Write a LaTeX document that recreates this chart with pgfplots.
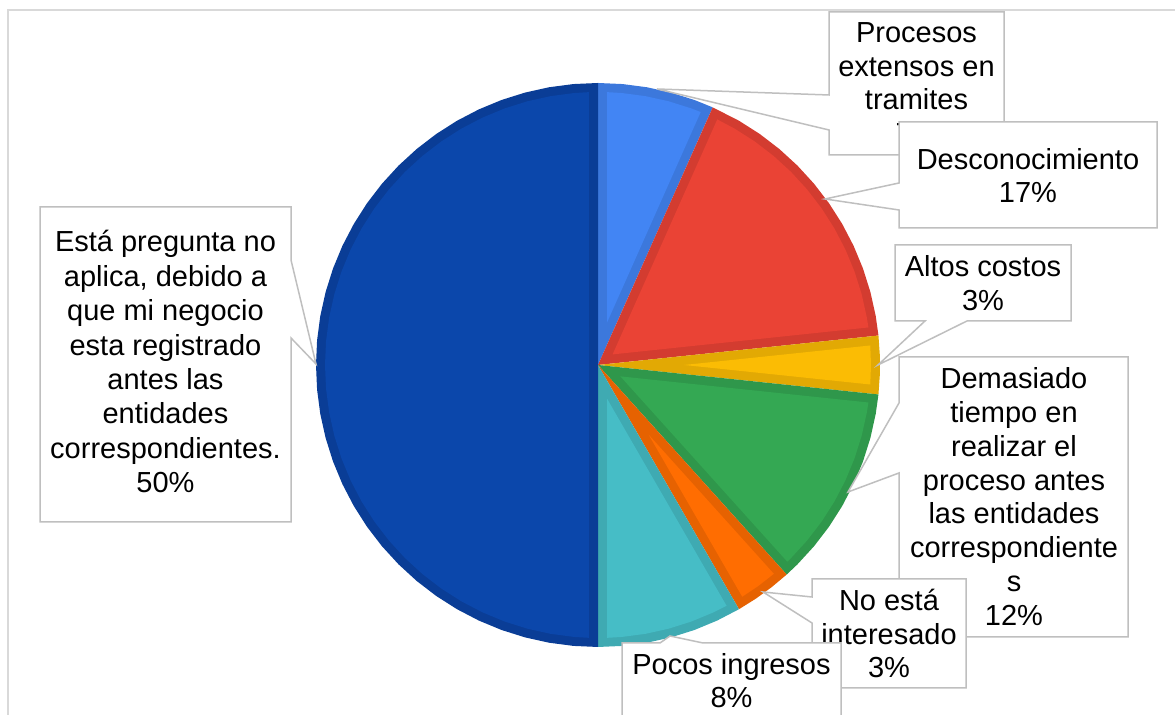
\documentclass[border=0pt]{standalone}
\usepackage{pgfplots}
\pgfplotsset{compat=1.18}
\usepgfplotslibrary{polar}
\usepackage{fontspec}
\setmainfont{Liberation Sans}
\definecolor{estaL}{RGB}{11,71,171}
\definecolor{estaD}{RGB}{10,61,150}
\definecolor{procL}{RGB}{66,133,244}
\definecolor{procD}{RGB}{60,120,220}
\definecolor{descL}{RGB}{234,67,53}
\definecolor{descD}{RGB}{211,60,48}
\definecolor{altL}{RGB}{251,188,4}
\definecolor{altD}{RGB}{226,169,4}
\definecolor{demL}{RGB}{52,168,83}
\definecolor{demD}{RGB}{47,151,75}
\definecolor{noL}{RGB}{255,109,1}
\definecolor{noD}{RGB}{230,98,1}
\definecolor{pocL}{RGB}{70,189,198}
\definecolor{pocD}{RGB}{63,170,178}
\definecolor{boxgray}{RGB}{191,191,191}
\definecolor{framegray}{RGB}{217,217,217}
\pgfplotsset{slice/.style={draw=none, data cs=polar}}
\newcommand\lblfont{\fontsize{14.5}{16.5}\selectfont}
\newcommand\lbl[3]{\node[anchor=base, inner sep=0pt, font=\lblfont, text=black] at (#1,#2) {#3};}
\begin{document}
\begin{tikzpicture}
\begin{axis}[at={(0,0)}, anchor=south west, scale only axis,
  width=587.5pt, height=357.5pt,
  xmin=-598, xmax=577, ymin=-350, ymax=365,
  axis lines=none, clip=false]
% outer (border-coloured) slices: counts 4,10,2,7,2,5,30 of 60
\addplot[slice, fill=procD] coordinates {(0,0) (90,282) (85,282) (80,282) (75,282) (70,282) (66,282)};
\addplot[slice, fill=descD] coordinates {(0,0) (66,282) (60,282) (55,282) (50,282) (45,282) (40,282) (35,282) (30,282) (25,282) (20,282) (15,282) (10,282) (6,282)};
\addplot[slice, fill=altD] coordinates {(0,0) (6,282) (2,282) (-2,282) (-6,282)};
\addplot[slice, fill=demD] coordinates {(0,0) (-6,282) (-10,282) (-15,282) (-20,282) (-25,282) (-30,282) (-35,282) (-40,282) (-45,282) (-48,282)};
\addplot[slice, fill=noD] coordinates {(0,0) (-48,282) (-52,282) (-56,282) (-60,282)};
\addplot[slice, fill=pocD] coordinates {(0,0) (-60,282) (-65,282) (-70,282) (-75,282) (-80,282) (-85,282) (-90,282)};
\addplot[slice, fill=estaD] coordinates {(0,0) (90,282) (95,282) (100,282) (105,282) (110,282) (115,282) (120,282) (125,282) (130,282) (135,282) (140,282) (145,282) (150,282) (155,282) (160,282) (165,282) (170,282) (175,282) (180,282) (185,282) (190,282) (195,282) (200,282) (205,282) (210,282) (215,282) (220,282) (225,282) (230,282) (235,282) (240,282) (245,282) (250,282) (255,282) (260,282) (265,282) (270,282)};
% inner (fill-coloured) slices
\addplot[slice, fill=procL] coordinates {(78,43.3) (67.9,273) (70,273) (75,273) (80,273) (85,273) (88.1,273)};
\addplot[slice, fill=descL] coordinates {(36,18) (7.9,273) (10,273) (15,273) (20,273) (25,273) (30,273) (35,273) (40,273) (45,273) (50,273) (55,273) (60,273) (64.1,273)};
\addplot[slice, fill=altL] coordinates {(0,86.1) (-4.1,273) (0,273) (4.1,273)};
\addplot[slice, fill=demL] coordinates {(-27,25.1) (-46.1,273) (-45,273) (-40,273) (-35,273) (-30,273) (-25,273) (-20,273) (-15,273) (-10,273) (-7.9,273)};
\addplot[slice, fill=noL] coordinates {(-54,86.1) (-58.1,273) (-54,273) (-49.9,273)};
\addplot[slice, fill=pocL] coordinates {(-75,34.8) (-88.1,273) (-85,273) (-80,273) (-75,273) (-70,273) (-65,273) (-61.9,273)};
\addplot[slice, fill=estaL] coordinates {(180,9) (91.9,273) (95,273) (100,273) (105,273) (110,273) (115,273) (120,273) (125,273) (130,273) (135,273) (140,273) (145,273) (150,273) (155,273) (160,273) (165,273) (170,273) (175,273) (180,273) (185,273) (190,273) (195,273) (200,273) (205,273) (210,273) (215,273) (220,273) (225,273) (230,273) (235,273) (240,273) (245,273) (250,273) (255,273) (260,273) (265,273) (268.1,273)};
\end{axis}
\pgfresetboundingbox
\useasboundingbox (0,0) rectangle (587.5pt,357.5pt);
\begin{scope}[x=0.5pt, y=-0.5pt, yshift=357.5pt]
\draw[framegray, line width=0.75pt] (8,800) -- (8,10) -- (1200,10);
\tikzset{callout/.style={draw=boxgray, fill=white, line width=0.75pt, line join=miter}}
% Procesos extensos en tramites
\draw[callout] (829,12) -- (1004,12) -- (1004,155) -- (829,155) -- (829,130) -- (657,89) -- (829,95) -- cycle;
\lbl{916.5}{43}{Procesos}
\lbl{916.5}{77}{extensos en}
\lbl{916.5}{110}{tramites}
\lbl{916.5}{144}{7\%}
% Desconocimiento
\draw[callout] (899,122) -- (1157,122) -- (1157,228) -- (899,228) -- (899,210) -- (825,199) -- (899,183) -- cycle;
\lbl{1028}{170}{Desconocimiento}
\lbl{1028}{203}{17\%}
% Altos costos
\draw[callout] (895,245) -- (1071,245) -- (1071,321) -- (967,321) -- (878,365) -- (925,321) -- (895,321) -- cycle;
\lbl{983}{277}{Altos costos}
\lbl{983}{311}{3\%}
% Demasiado tiempo
\draw[callout] (899,357) -- (1128,357) -- (1128,637) -- (899,637) -- (899,473) -- (848,492) -- (899,403) -- cycle;
\lbl{1014}{389}{Demasiado}
\lbl{1014}{423}{tiempo en}
\lbl{1014}{457}{realizar el}
\lbl{1014}{491}{proceso antes}
\lbl{1014}{524}{las entidades}
\lbl{1014}{558}{correspondiente}
\lbl{1014}{592}{s}
\lbl{1014}{626}{12\%}
% No está interesado
\draw[callout] (812,579) -- (966,579) -- (966,688) -- (812,688) -- (812,623) -- (763,592) -- (812,597) -- cycle;
\lbl{889}{611}{No está}
\lbl{889}{645}{interesado}
\lbl{889}{678}{3\%}
% Pocos ingresos
\draw[callout] (622,643) -- (660,643) -- (670,636) -- (703,643) -- (841,643) -- (841,780) -- (622,780) -- cycle;
\lbl{731.5}{675}{Pocos ingresos}
\lbl{731.5}{708}{8\%}
% Está pregunta no aplica
\draw[callout] (40,207) -- (291,207) -- (291,260) -- (316,364) -- (291,338) -- (291,522) -- (40,522) -- cycle;
\lbl{165.5}{252}{Está pregunta no}
\lbl{165.5}{286.4}{aplica, debido a}
\lbl{165.5}{320.8}{que mi negocio}
\lbl{165.5}{355.2}{esta registrado}
\lbl{165.5}{389.6}{antes las}
\lbl{165.5}{424}{entidades}
\lbl{165.5}{458.4}{correspondientes.}
\lbl{165.5}{493}{50\%}
\end{scope}
\end{tikzpicture}
\end{document}
